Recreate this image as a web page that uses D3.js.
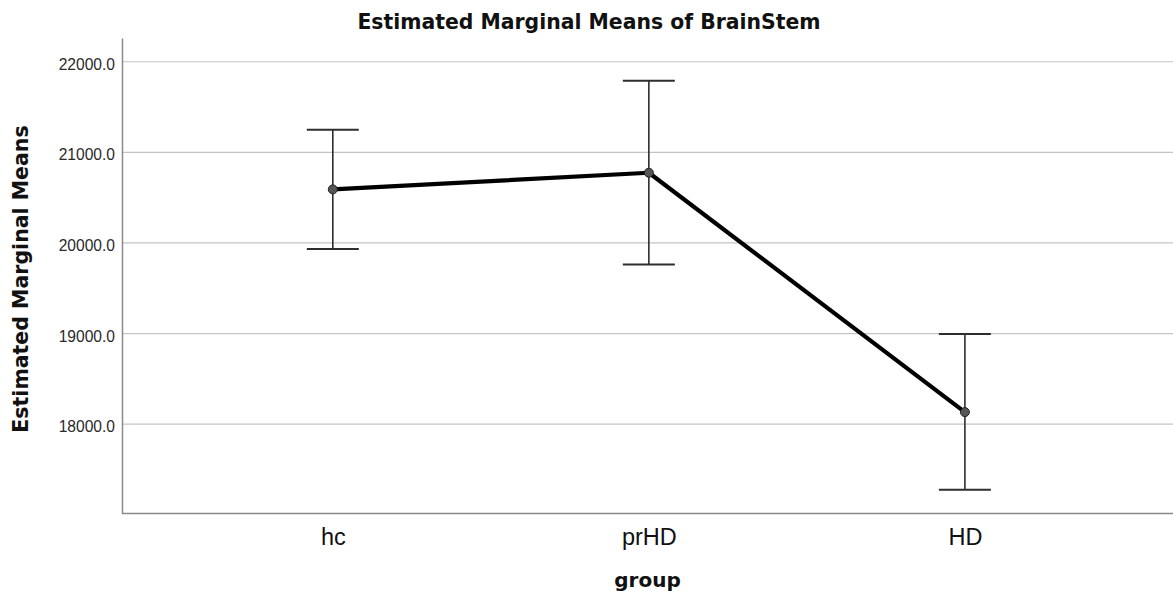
<!DOCTYPE html>
<html>
<head>
<meta charset="utf-8">
<script src="https://cdn.jsdelivr.net/npm/d3@7"></script>
<style>
  body { margin: 0; background: #fff; }
  svg { display: block; font-family: "DejaVu Sans", sans-serif; }
</style>
</head>
<body>
<div id="chart"></div>
<script>
// Estimated marginal means of BrainStem by group, with error bars
const groups = ['hc', 'prHD', 'HD'];
const means = [20591, 20775, 18133];
const upper = [21249, 21790, 18994];
const lower = [19932, 19763, 17275];
const yTicks = [18000, 19000, 20000, 21000, 22000];

const W = 1173, H = 591;
const svg = d3.select('#chart').append('svg')
  .attr('width', W)
  .attr('height', H);

const plotLeft = 122, plotTop = 38, plotBottom = 513.5;

const x = d3.scalePoint()
  .domain(groups)
  .range([plotLeft, 1175.7])
  .padding(0.667);

const y = d3.scaleLinear()
  .domain([17014, 22262])
  .range([plotBottom, plotTop]);

// gridlines
svg.append('g')
  .selectAll('line')
  .data(yTicks)
  .enter().append('line')
  .attr('x1', plotLeft)
  .attr('x2', W)
  .attr('y1', d => y(d))
  .attr('y2', d => y(d))
  .attr('stroke', '#c4c4c4')
  .attr('stroke-width', 1.2);

// y axis
const yAxis = svg.append('g')
  .attr('transform', `translate(${plotLeft},0)`)
  .call(d3.axisLeft(y).tickValues(yTicks).tickSize(0).tickPadding(7).tickFormat(d3.format('.1f')));
yAxis.select('.domain').attr('stroke', '#8a8a8a').attr('stroke-width', 1.5);
yAxis.selectAll('text')
  .attr('dy', '0.48em')
  .style('font-size', '15.6px')
  .style('fill', '#2a2a2a');

// x axis
const xAxis = svg.append('g')
  .attr('transform', `translate(0,${plotBottom})`)
  .call(d3.axisBottom(x).tickSize(0).tickPadding(0));
xAxis.select('.domain').remove();
xAxis.append('line')
  .attr('x1', plotLeft).attr('x2', W)
  .attr('stroke', '#8a8a8a').attr('stroke-width', 1.5);
xAxis.selectAll('.tick text')
  .attr('dy', null)
  .attr('y', 31)
  .style('font-family', '"Liberation Sans", Arial, sans-serif')
  .style('font-size', '23.5px')
  .style('fill', '#111');

// error bars
const bars = svg.append('g')
  .selectAll('g')
  .data(groups)
  .enter().append('g');

bars.append('line')
  .attr('x1', d => x(d)).attr('x2', d => x(d))
  .attr('y1', (d, i) => y(upper[i]))
  .attr('y2', (d, i) => y(lower[i]))
  .attr('stroke', '#2e2e2e').attr('stroke-width', 1.6);

bars.append('line')
  .attr('x1', d => x(d) - 26).attr('x2', d => x(d) + 26)
  .attr('y1', (d, i) => y(upper[i]))
  .attr('y2', (d, i) => y(upper[i]))
  .attr('stroke', '#2e2e2e').attr('stroke-width', 2);

bars.append('line')
  .attr('x1', d => x(d) - 26).attr('x2', d => x(d) + 26)
  .attr('y1', (d, i) => y(lower[i]))
  .attr('y2', (d, i) => y(lower[i]))
  .attr('stroke', '#2e2e2e').attr('stroke-width', 2);

// mean line
const line = d3.line()
  .x((d, i) => x(groups[i]))
  .y(d => y(d));

svg.append('path')
  .datum(means)
  .attr('d', line)
  .attr('fill', 'none')
  .attr('stroke', '#000')
  .attr('stroke-width', 4.2)
  .attr('stroke-linejoin', 'round');

svg.append('g')
  .selectAll('circle')
  .data(means)
  .enter().append('circle')
  .attr('cx', (d, i) => x(groups[i]))
  .attr('cy', d => y(d))
  .attr('r', 4.5)
  .attr('fill', '#555')
  .attr('stroke', '#222')
  .attr('stroke-width', 1);

// titles
svg.append('text')
  .attr('x', 589)
  .attr('y', 29)
  .attr('text-anchor', 'middle')
  .style('font-size', '20.4px')
  .style('font-weight', 'bold')
  .style('fill', '#111')
  .text('Estimated Marginal Means of BrainStem');

svg.append('text')
  .attr('transform', 'rotate(-90)')
  .attr('x', -279)
  .attr('y', 28)
  .attr('text-anchor', 'middle')
  .style('font-size', '20.5px')
  .style('font-weight', 'bold')
  .style('fill', '#111')
  .text('Estimated Marginal Means');

svg.append('text')
  .attr('x', 647.5)
  .attr('y', 587)
  .attr('text-anchor', 'middle')
  .style('font-size', '20px')
  .style('font-weight', 'bold')
  .style('fill', '#111')
  .text('group');
</script>
</body>
</html>
